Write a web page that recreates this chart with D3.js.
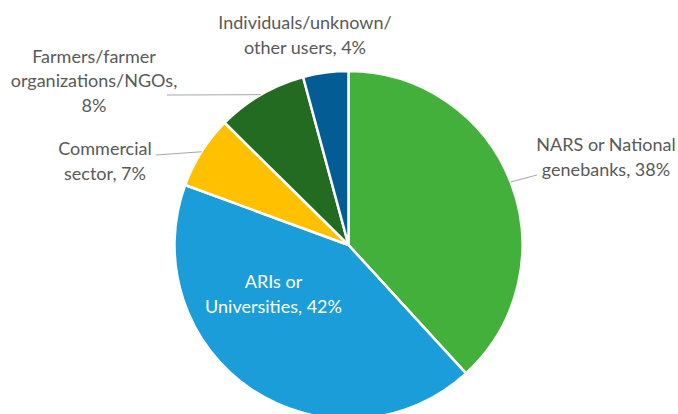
<!DOCTYPE html>
<html><head><meta charset="utf-8">
<script src="https://cdn.jsdelivr.net/npm/d3@7"></script>
<style>html,body{margin:0;padding:0;background:#fff;}svg{display:block;}</style>
</head><body>
<svg id="chart" width="678" height="414"></svg>
<script>
const categories = ["NARS or National genebanks", "ARIs or Universities", "Commercial sector", "Farmers/farmer organizations/NGOs", "Individuals/unknown/other users"];
const values = [38.2, 42.4, 6.8, 8.4, 4.2];
const colors = ["#43b03c", "#1b9dd9", "#ffc000", "#246b22", "#035d94"];
const labelLines = [
  ["NARS or National", "genebanks, 38%"],
  ["ARIs or", "Universities, 42%"],
  ["Commercial", "sector, 7%"],
  ["Farmers/farmer", "organizations/NGOs,", "8%"],
  ["Individuals/unknown/", "other users, 4%"]
];

const W = 678, H = 414, cx = 348.5, cy = 245, R = 174;
const svg = d3.select("#chart");
const g = svg.append("g").attr("transform", `translate(${cx},${cy})`);
const pie = d3.pie().value(d => d).sort(null);
const arcs = pie(values);
const arc = d3.arc().innerRadius(0).outerRadius(R);

g.selectAll("path.slice").data(arcs).enter().append("path")
  .attr("class", "slice")
  .attr("d", arc)
  .attr("fill", (d, i) => colors[i])
  .attr("stroke", "#fff").attr("stroke-width", 2.5).attr("stroke-linejoin", "round");

// label layout (centre of text block) and leader line end points
const labelLayout = [
  {x: 606, y: 157, color: "#595959"},
  {x: 273.5, y: 294, color: "#ffffff"},
  {x: 105, y: 161, color: "#595959"},
  {x: 94, y: 81, color: "#595959"},
  {x: 305, y: 35, color: "#595959"}
];
const lineH = 24.5, fs = 18;

const leaders = [
  {i: 0, f: 0.5, to: [537, 175]},
  {i: 2, f: 0.5, to: [156, 155]},
  {i: 3, f: 0.5, to: [167, 95]}
];
leaders.forEach(l => {
  const a = arcs[l.i];
  const ang = a.startAngle + (a.endAngle - a.startAngle) * l.f;
  const px = cx + R * Math.sin(ang), py = cy - R * Math.cos(ang);
  svg.append("line").attr("x1", px).attr("y1", py).attr("x2", l.to[0]).attr("y2", l.to[1])
    .attr("stroke", "#a6a6a6").attr("stroke-width", 1);
});

labelLines.forEach((lines, i) => {
  const L = labelLayout[i];
  const t = svg.append("text")
    .attr("text-anchor", "middle")
    .attr("font-family", "Lato, Carlito, Calibri, sans-serif")
    .attr("font-size", fs)
    .attr("fill", L.color);
  const n = lines.length;
  lines.forEach((s, k) => {
    t.append("tspan").attr("x", L.x)
      .attr("y", L.y + (k - (n - 1) / 2) * lineH)
      .attr("dy", "0.35em").text(s);
  });
});
</script>
</body></html>
